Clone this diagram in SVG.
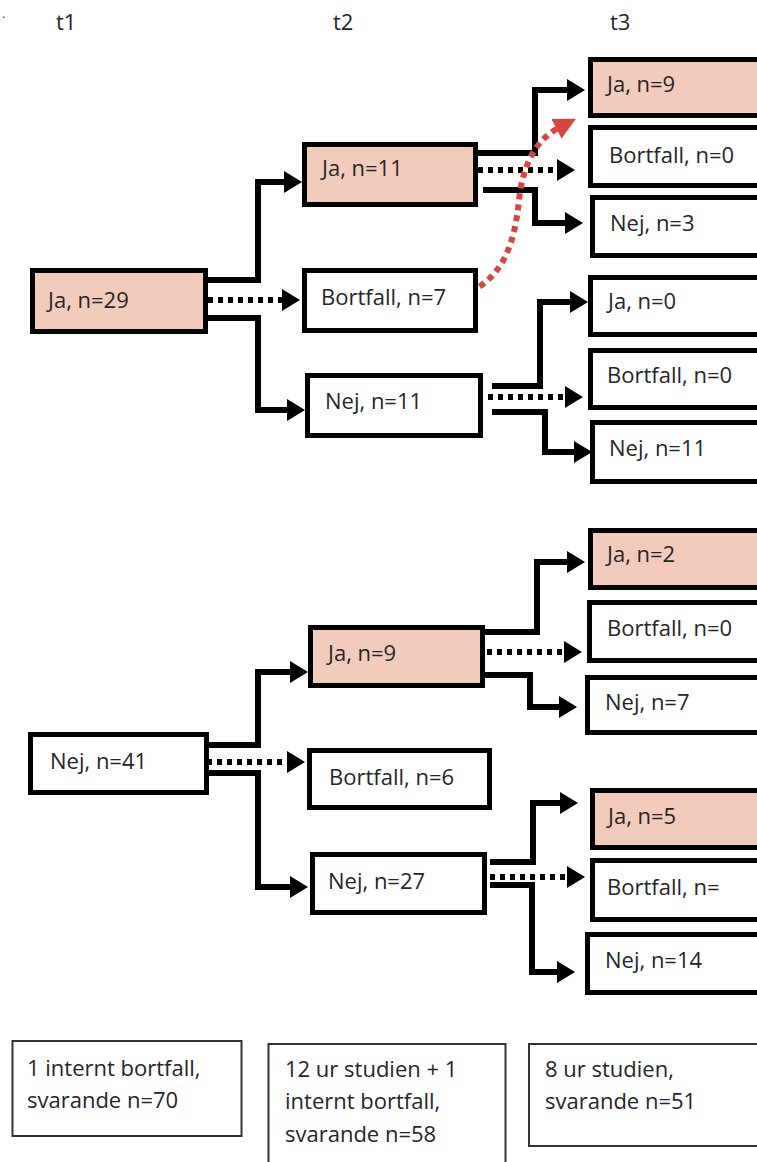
<svg xmlns="http://www.w3.org/2000/svg" width="757" height="1162" viewBox="0 0 757 1162">
<style>
.node rect{stroke:#000;stroke-width:5;fill:#fff}
.node.ja rect{fill:#f3cbbb}
.lbl{font-family:"Open Sans","Liberation Sans",sans-serif;font-size:22px;fill:#262626}
.hdr{font-family:"Open Sans","Liberation Sans",sans-serif;font-size:22px;fill:#262626}
.note rect{stroke:#333;stroke-width:2;fill:#fff}
.solid{fill:none;stroke:#000;stroke-width:6;stroke-linejoin:miter}
.dot{fill:none;stroke:#000;stroke-width:6;stroke-dasharray:5 5}
.red{fill:none;stroke:#d9463f;stroke-width:6;stroke-dasharray:6 5}
</style>
<defs>
<marker id="ah" markerUnits="userSpaceOnUse" markerWidth="20" markerHeight="24" refX="6" refY="11" orient="auto">
<path d="M0,0 L18,11 L0,22 z" fill="#000"/>
</marker>
<marker id="ahr" markerUnits="userSpaceOnUse" markerWidth="24" markerHeight="24" refX="4" refY="11" orient="auto">
<path d="M0,0 L22,11 L0,22 z" fill="#d9463f"/>
</marker>
</defs>
<rect width="757" height="1162" fill="#fff"/>
<text class="hdr" x="2" y="18" style="font-size:12px">.</text>
<text class="hdr" x="56" y="30">t1</text>
<text class="hdr" x="333" y="30">t2</text>
<text class="hdr" x="610" y="30">t3</text>

<g id="connectors">
<path class="solid" d="M208,280 H258 V182 H290" marker-end="url(#ah)"/>
<path class="dot" d="M208,300 H288" marker-end="url(#ah)"/>
<path class="solid" d="M208,318 H258 V410 H293" marker-end="url(#ah)"/>
<path class="solid" d="M478,153 H535 V90 H573" marker-end="url(#ah)"/>
<path class="dot" d="M478,170 H563" marker-end="url(#ah)"/>
<path class="solid" d="M483,190 H535 V223 H571" marker-end="url(#ah)"/>
<path class="solid" d="M492,386 H540 V302 H576" marker-end="url(#ah)"/>
<path class="dot" d="M488,397 H571" marker-end="url(#ah)"/>
<path class="solid" d="M492,412 H545 V452 H580" marker-end="url(#ah)"/>
<path class="solid" d="M207,745 H258 V672 H296" marker-end="url(#ah)"/>
<path class="dot" d="M207,762 H293" marker-end="url(#ah)"/>
<path class="solid" d="M207,773 H258 V887 H296" marker-end="url(#ah)"/>
<path class="solid" d="M483,632 H537 V562 H573" marker-end="url(#ah)"/>
<path class="dot" d="M487,652 H570" marker-end="url(#ah)"/>
<path class="solid" d="M483,675 H530 V707 H565" marker-end="url(#ah)"/>
<path class="solid" d="M490,862 H533 V803 H566" marker-end="url(#ah)"/>
<path class="dot" d="M490,877 H573" marker-end="url(#ah)"/>
<path class="solid" d="M490,885 H532 V972 H563" marker-end="url(#ah)"/>
<path class="red" d="M470,292 C505,275 515,240 519,200 C523,165 535,140 560,127" marker-end="url(#ahr)"/>
</g>

<g id="t1-ja" class="node ja"><rect x="32.5" y="270.5" width="173" height="61"/><text class="lbl" x="48" y="308">Ja, n=29</text></g>
<g id="t2-ja-a" class="node ja"><rect x="304.5" y="144.5" width="171" height="60"/><text class="lbl" x="322" y="176">Ja, n=11</text></g>
<g id="t2-bort-a" class="node"><rect x="304.5" y="270.5" width="171" height="60"/><text class="lbl" x="321" y="305">Bortfall, n=7</text></g>
<g id="t2-nej-a" class="node"><rect x="307.5" y="375.5" width="173" height="60"/><text class="lbl" x="325" y="409">Nej, n=11</text></g>
<g id="t3-ja-a1" class="node ja"><rect x="590.5" y="59.5" width="180" height="56"/><text class="lbl" x="607" y="92">Ja, n=9</text></g>
<g id="t3-bort-a1" class="node"><rect x="590.5" y="127.5" width="180" height="58"/><text class="lbl" x="609" y="163">Bortfall, n=0</text></g>
<g id="t3-nej-a1" class="node"><rect x="592.5" y="197.5" width="180" height="58"/><text class="lbl" x="610" y="231">Nej, n=3</text></g>
<g id="t3-ja-a2" class="node"><rect x="590.5" y="277.5" width="180" height="57"/><text class="lbl" x="608" y="309">Ja, n=0</text></g>
<g id="t3-bort-a2" class="node"><rect x="590.5" y="350.5" width="180" height="57"/><text class="lbl" x="607" y="383">Bortfall, n=0</text></g>
<g id="t3-nej-a2" class="node"><rect x="592.5" y="422.5" width="180" height="59"/><text class="lbl" x="609" y="456">Nej, n=11</text></g>

<g id="t1-nej" class="node"><rect x="30.5" y="734.5" width="176" height="58"/><text class="lbl" x="50" y="769">Nej, n=41</text></g>
<g id="t2-ja-b" class="node ja"><rect x="310.5" y="627.5" width="172" height="58"/><text class="lbl" x="328" y="661">Ja, n=9</text></g>
<g id="t2-bort-b" class="node"><rect x="309.5" y="750.5" width="180" height="57"/><text class="lbl" x="329" y="785">Bortfall, n=6</text></g>
<g id="t2-nej-b" class="node"><rect x="312.5" y="854.5" width="172" height="58"/><text class="lbl" x="328" y="889">Nej, n=27</text></g>
<g id="t3-ja-b1" class="node ja"><rect x="590.5" y="530.5" width="180" height="57"/><text class="lbl" x="607" y="562">Ja, n=2</text></g>
<g id="t3-bort-b1" class="node"><rect x="589.5" y="602.5" width="180" height="58"/><text class="lbl" x="607" y="636">Bortfall, n=0</text></g>
<g id="t3-nej-b1" class="node"><rect x="587.5" y="677.5" width="180" height="55"/><text class="lbl" x="605" y="710">Nej, n=7</text></g>
<g id="t3-ja-b2" class="node ja"><rect x="592.5" y="790.5" width="180" height="57"/><text class="lbl" x="608" y="824">Ja, n=5</text></g>
<g id="t3-bort-b2" class="node"><rect x="592.5" y="860.5" width="180" height="59"/><text class="lbl" x="607" y="895">Bortfall, n=</text></g>
<g id="t3-nej-b2" class="node"><rect x="587.5" y="934.5" width="180" height="58"/><text class="lbl" x="605" y="968">Nej, n=14</text></g>

<g id="note1" class="note"><rect x="12.5" y="1041" width="229" height="95"/><text class="lbl" x="27" y="1076">1 internt bortfall,</text><text class="lbl" x="27" y="1108">svarande n=70</text></g>
<g id="note2" class="note"><rect x="268.5" y="1044" width="237" height="130"/><text class="lbl" x="285" y="1077">12 ur studien + 1</text><text class="lbl" x="285" y="1109">internt bortfall,</text><text class="lbl" x="285" y="1142">svarande n=58</text></g>
<g id="note3" class="note"><rect x="529" y="1044" width="240" height="102"/><text class="lbl" x="545" y="1077">8 ur studien,</text><text class="lbl" x="545" y="1109">svarande n=51</text></g>
</svg>
